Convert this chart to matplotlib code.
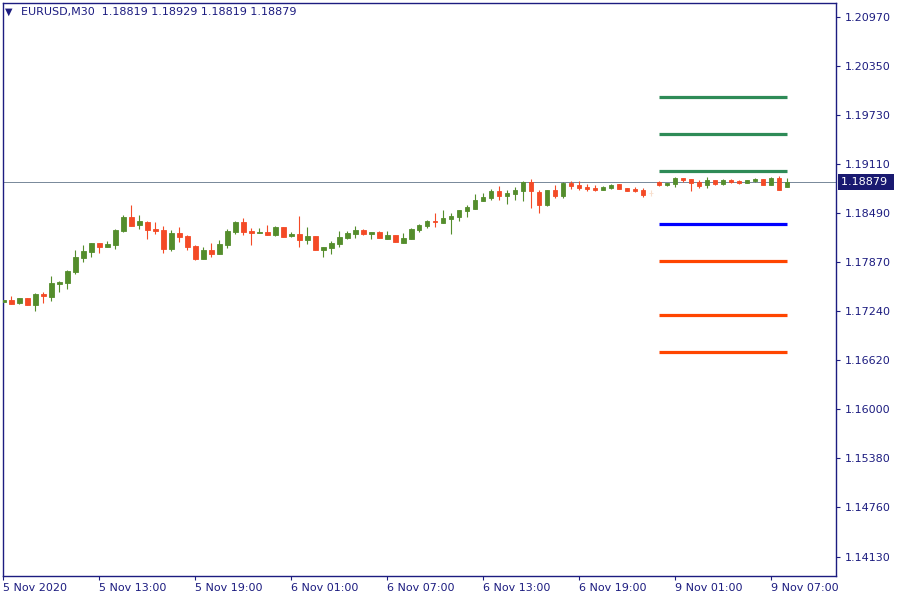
import matplotlib
matplotlib.use("Agg")
import matplotlib.pyplot as plt
import matplotlib.transforms as mtrans

NAVY = "#1c1c80"; BULL = "#548d2c"; BEAR = "#f44a26"; FAINT = "#f8dfcd"; PLINE = "#778899"
plt.rcParams.update({"font.family": "DejaVu Sans", "font.size": 8})

symbol = "EURUSD,M30"
opens = [1.17364, 1.17385, 1.17351, 1.17410, 1.17325, 1.17461, 1.17427, 1.17592, 1.17604, 1.17743,
         1.17921, 1.17997, 1.18107, 1.18060, 1.18086, 1.18259, 1.18436, 1.18339, 1.18373, 1.18284,
         1.18272, 1.18035, 1.18234, 1.18196, 1.18069, 1.17908, 1.18018, 1.17972, 1.18086, 1.18250,
         1.18373, 1.18259, 1.18238, 1.18246, 1.18212, 1.18310, 1.18200, 1.18221, 1.18149, 1.18196,
         1.18022, 1.18048, 1.18098, 1.18174, 1.18225, 1.18272, 1.18225, 1.18246, 1.18162, 1.18208,
         1.18111, 1.18162, 1.18276, 1.18326, 1.18386, 1.18360, 1.18411, 1.18436, 1.18512, 1.18538,
         1.18639, 1.18677, 1.18766, 1.18702, 1.18728, 1.18766, 1.18880, 1.18753, 1.18588, 1.18778,
         1.18702, 1.18867, 1.18842, 1.18816, 1.18804, 1.18778, 1.18804, 1.18854, 1.18804, 1.18791,
         1.18778, 1.18742, 1.18880, 1.18842, 1.18854, 1.18931, 1.18918, 1.18880, 1.18842, 1.18905,
         1.18854, 1.18905, 1.18892, 1.18867, 1.18892, 1.18918, 1.18842, 1.18931, 1.18819]
highs = [1.17385, 1.17435, 1.17410, 1.17410, 1.17473, 1.17486, 1.17689, 1.17626, 1.17765, 1.18018,
         1.18082, 1.18107, 1.18107, 1.18132, 1.18284, 1.18462, 1.18588, 1.18462, 1.18386, 1.18373,
         1.18322, 1.18272, 1.18310, 1.18208, 1.18082, 1.18056, 1.18107, 1.18149, 1.18284, 1.18386,
         1.18424, 1.18297, 1.18297, 1.18335, 1.18322, 1.18310, 1.18246, 1.18449, 1.18310, 1.18196,
         1.18056, 1.18132, 1.18259, 1.18259, 1.18322, 1.18284, 1.18246, 1.18259, 1.18259, 1.18208,
         1.18234, 1.18297, 1.18348, 1.18398, 1.18487, 1.18525, 1.18487, 1.18525, 1.18588, 1.18728,
         1.18740, 1.18791, 1.18829, 1.18778, 1.18816, 1.18892, 1.18918, 1.18778, 1.18778, 1.18842,
         1.18880, 1.18892, 1.18892, 1.18854, 1.18842, 1.18829, 1.18854, 1.18854, 1.18804, 1.18816,
         1.18804, 1.18778, 1.18892, 1.18867, 1.18943, 1.18931, 1.18918, 1.18905, 1.18943, 1.18905,
         1.18918, 1.18918, 1.18905, 1.18905, 1.18931, 1.18918, 1.18943, 1.18956, 1.18929]
lows = [1.17309, 1.17339, 1.17339, 1.17325, 1.17249, 1.17351, 1.17376, 1.17490, 1.17528, 1.17718,
        1.17870, 1.17933, 1.17984, 1.18060, 1.18035, 1.18246, 1.18326, 1.18288, 1.18162, 1.18225,
        1.17984, 1.18010, 1.18124, 1.18022, 1.17896, 1.17908, 1.17933, 1.17972, 1.18048, 1.18225,
        1.18212, 1.18086, 1.18238, 1.18212, 1.18200, 1.18187, 1.18187, 1.18060, 1.18098, 1.18022,
        1.17933, 1.17972, 1.18060, 1.18162, 1.18174, 1.18212, 1.18162, 1.18174, 1.18162, 1.18124,
        1.18111, 1.18162, 1.18250, 1.18301, 1.18314, 1.18360, 1.18225, 1.18386, 1.18436, 1.18538,
        1.18639, 1.18652, 1.18652, 1.18601, 1.18652, 1.18639, 1.18550, 1.18487, 1.18576, 1.18677,
        1.18677, 1.18791, 1.18778, 1.18766, 1.18766, 1.18778, 1.18791, 1.18791, 1.18766, 1.18753,
        1.18690, 1.18702, 1.18829, 1.18829, 1.18816, 1.18880, 1.18766, 1.18804, 1.18804, 1.18842,
        1.18842, 1.18867, 1.18854, 1.18867, 1.18880, 1.18842, 1.18842, 1.18778, 1.18819]
closes = [1.17385, 1.17339, 1.17410, 1.17325, 1.17461, 1.17435, 1.17600, 1.17617, 1.17752, 1.17930,
          1.18006, 1.18107, 1.18060, 1.18094, 1.18272, 1.18436, 1.18326, 1.18386, 1.18276, 1.18263,
          1.18035, 1.18234, 1.18187, 1.18060, 1.17908, 1.18022, 1.17972, 1.18094, 1.18259, 1.18373,
          1.18250, 1.18238, 1.18246, 1.18212, 1.18310, 1.18187, 1.18221, 1.18149, 1.18196, 1.18022,
          1.18056, 1.18107, 1.18183, 1.18234, 1.18272, 1.18225, 1.18246, 1.18174, 1.18208, 1.18124,
          1.18170, 1.18284, 1.18335, 1.18386, 1.18377, 1.18424, 1.18449, 1.18525, 1.18563, 1.18652,
          1.18690, 1.18766, 1.18702, 1.18740, 1.18778, 1.18880, 1.18766, 1.18588, 1.18778, 1.18702,
          1.18867, 1.18829, 1.18804, 1.18791, 1.18778, 1.18816, 1.18842, 1.18791, 1.18766, 1.18766,
          1.18715, 1.18740, 1.18842, 1.18867, 1.18931, 1.18905, 1.18867, 1.18829, 1.18905, 1.18854,
          1.18905, 1.18880, 1.18867, 1.18905, 1.18918, 1.18842, 1.18931, 1.18778, 1.18879]
faint_bars = [81]  # pale weekend doji

# pivot levels (R3..S3)
level_prices = [1.19956, 1.19488, 1.19019, 1.18348, 1.17879, 1.17195, 1.16726]
level_colors = ["#2e8b57", "#2e8b57", "#2e8b57", "#0000ff", "#ff4500", "#ff4500", "#ff4500"]
level_from, level_to = 82, 98

ytick_vals = [1.20970, 1.20350, 1.19730, 1.19110, 1.18490, 1.17870, 1.17240, 1.16620, 1.16000, 1.15380, 1.14760, 1.14130]
xtick_bars = [0, 12, 24, 36, 48, 60, 72, 84, 96]
xtick_labels = ["5 Nov 2020", "5 Nov 13:00", "5 Nov 19:00", "6 Nov 01:00", "6 Nov 07:00",
                "6 Nov 13:00", "6 Nov 19:00", "9 Nov 01:00", "9 Nov 07:00"]

fig = plt.figure(figsize=(9, 6), dpi=100)
ax = fig.add_axes([3/900, 24/600, 833/900, 573/600])
ax.set_xlim(-0.05, 104.1); ax.set_ylim(1.13889, 1.21147)

xs = list(range(len(opens)))
cols = []
for i, (o, c) in enumerate(zip(opens, closes)):
    cols.append(FAINT if i in faint_bars else (BULL if c >= o else BEAR))
ax.vlines(xs, lows, highs, colors=cols, lw=0.8, zorder=2)
ax.bar(xs, [abs(c - o) for o, c in zip(opens, closes)], bottom=[min(o, c) for o, c in zip(opens, closes)],
       width=0.55, color=cols, edgecolor=cols, lw=0.6, zorder=3)

ax.hlines(level_prices, level_from, level_to, colors=level_colors, lw=2.3, zorder=4)
ax.axhline(closes[-1], color=PLINE, lw=0.7, zorder=1)

for s in ax.spines.values(): s.set_color(NAVY); s.set_linewidth(1)
ax.yaxis.tick_right()
ax.set_yticks(ytick_vals); ax.set_yticklabels([f"{v:.5f}" for v in ytick_vals])
ax.tick_params(axis="y", direction="out", length=3, width=0.8, color=NAVY, labelcolor=NAVY, pad=3, labelsize=8)
ax.set_xticks(xtick_bars); ax.set_xticklabels(xtick_labels, ha="left")
ax.tick_params(axis="x", direction="out", length=3, width=0.8, color=NAVY, labelcolor=NAVY, pad=2, labelsize=8)

# current price tag
tr = mtrans.blended_transform_factory(ax.transAxes, ax.transData)
ax.text(1.006, closes[-1], f"{closes[-1]:.5f} ", transform=tr, ha="left", va="center", color="white", fontsize=8,
        bbox=dict(boxstyle="square,pad=0.3", fc="#191970", ec="none"), zorder=6, clip_on=False)

fig.text(5/900, 1 - 12/600, "▼", color=NAVY, fontsize=7, va="center")
fig.text(21/900, 1 - 12/600, f"{symbol}  {opens[-1]:.5f} {highs[-1]:.5f} {lows[-1]:.5f} {closes[-1]:.5f}",
         color=NAVY, fontsize=8, va="center")

fig.savefig("out.png", dpi=100, facecolor="white")
